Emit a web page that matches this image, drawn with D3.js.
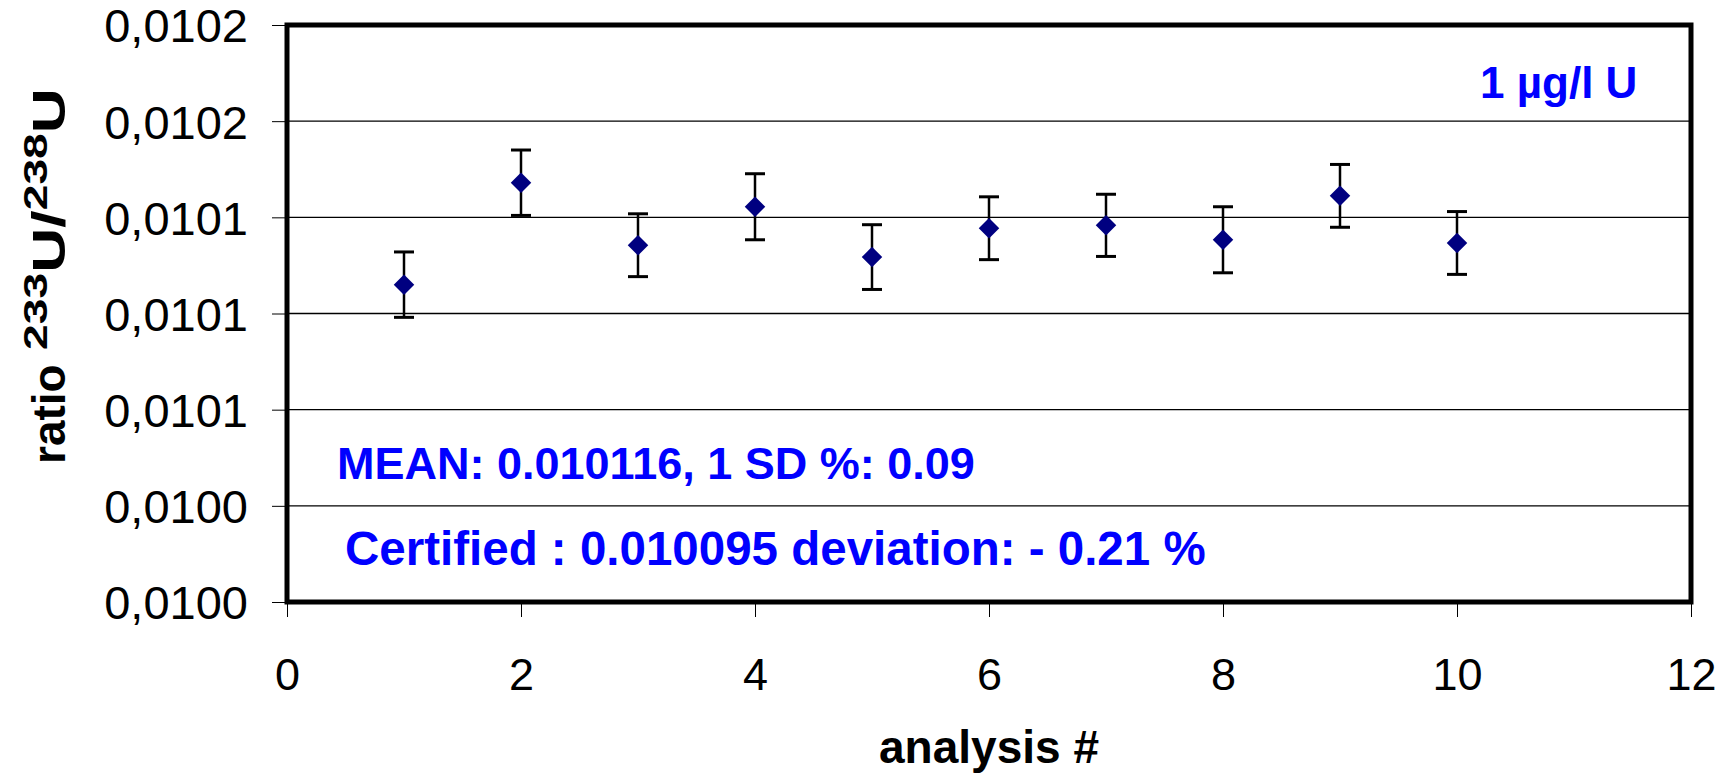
<!DOCTYPE html>
<html lang="en">
<head>
    <meta charset="UTF-8">
    <title>233U/238U ratio</title>
    <script src="https://d3js.org/d3.v7.min.js"></script>
    <style>
        body { margin: 0; background: #ffffff; }
        text { font-family: "Liberation Sans", Arial, sans-serif; }
    </style>
</head>
<body>
<div id="chart"></div>
<script>
    let analysis = [1, 2, 3, 4, 5, 6, 7, 8, 9, 10];
    let ratio = [0.010099, 0.0101308, 0.0101113, 0.0101233, 0.0101076,
        0.0101166, 0.0101175, 0.010113, 0.0101267, 0.010112];
    let ratioErr = [0.0000102, 0.0000102, 0.0000098, 0.0000103, 0.0000101,
        0.0000098, 0.0000097, 0.0000103, 0.0000098, 0.0000098];

    // axis ticks, labels as printed on the chart (4 decimals, comma separator)
    let yTicks = [0.01, 0.01003, 0.01006, 0.01009, 0.01012, 0.01015, 0.01018];
    let yTickLabels = ['0,0100', '0,0100', '0,0101', '0,0101', '0,0101', '0,0102', '0,0102'];
    let xTicks = [0, 2, 4, 6, 8, 10, 12];

    let notes = ['1 µg/l U', 'MEAN: 0.010116, 1 SD %: 0.09', 'Certified : 0.010095 deviation: - 0.21 %'];

    let W = 1733, H = 781;
    let plot = {left: 287, right: 1691, top: 25, bottom: 602};

    let svg = d3.select('#chart')
        .append('svg')
        .attr('width', W)
        .attr('height', H);

    let x = d3.scaleLinear()
        .domain([0, 12])
        .range([plot.left, plot.right]);

    let y = d3.scaleLinear()
        .domain([0.01, 0.01018])
        .range([plot.bottom, plot.top]);

    // gridlines
    svg.append('g')
        .selectAll('line')
        .data(yTicks)
        .enter()
        .append('line')
        .attr('x1', x(0))
        .attr('x2', x(12))
        .attr('y1', function (d) { return y(d); })
        .attr('y2', function (d) { return y(d); })
        .attr('stroke', '#000')
        .attr('stroke-width', 1.3);

    // Y axis
    let yAxis = svg.append('g')
        .attr('transform', 'translate(' + plot.left + ',0)')
        .call(d3.axisLeft(y)
            .tickValues(yTicks)
            .tickSize(15)
            .tickPadding(24)
            .tickFormat(function (d, i) { return yTickLabels[i]; }));
    yAxis.select('.domain').remove();
    yAxis.selectAll('line').attr('stroke', '#000');
    yAxis.selectAll('text')
        .attr('dy', '0.36em')
        .style('font-size', '47px')
        .attr('fill', '#000');

    // X axis
    let xAxis = svg.append('g')
        .attr('transform', 'translate(0,' + plot.bottom + ')')
        .call(d3.axisBottom(x)
            .tickValues(xTicks)
            .tickSize(15)
            .tickPadding(41));
    xAxis.select('.domain').remove();
    xAxis.selectAll('line').attr('stroke', '#000');
    xAxis.selectAll('text')
        .style('font-size', '45px')
        .attr('fill', '#000');

    // plot frame
    svg.append('rect')
        .attr('x', x(0))
        .attr('y', y(0.01018))
        .attr('width', x(12) - x(0))
        .attr('height', y(0.01) - y(0.01018))
        .attr('fill', 'none')
        .attr('stroke', '#000')
        .attr('stroke-width', 5);

    // error bars
    let bars = svg.append('g')
        .selectAll('g')
        .data(analysis)
        .enter()
        .append('g');
    bars.append('line')
        .attr('x1', function (d) { return x(d); })
        .attr('x2', function (d) { return x(d); })
        .attr('y1', function (d, i) { return y(ratio[i] + ratioErr[i]); })
        .attr('y2', function (d, i) { return y(ratio[i] - ratioErr[i]); })
        .attr('stroke', '#000')
        .attr('stroke-width', 2.5);
    [1, -1].forEach(function (s) {
        bars.append('line')
            .attr('x1', function (d) { return x(d) - 10; })
            .attr('x2', function (d) { return x(d) + 10; })
            .attr('y1', function (d, i) { return y(ratio[i] + s * ratioErr[i]); })
            .attr('y2', function (d, i) { return y(ratio[i] + s * ratioErr[i]); })
            .attr('stroke', '#000')
            .attr('stroke-width', 3);
    });

    // diamond markers
    svg.append('g')
        .selectAll('path')
        .data(analysis)
        .enter()
        .append('path')
        .attr('d', d3.symbol(d3.symbolSquare).size(210))
        .attr('transform', function (d, i) {
            return 'translate(' + x(d) + ',' + y(ratio[i]) + ') rotate(45)';
        })
        .attr('fill', '#000080');

    // annotations
    svg.append('text')
        .attr('x', 1480).attr('y', 98)
        .style('font-size', '44px').style('font-weight', 'bold')
        .attr('fill', '#0000ff')
        .text(notes[0]);
    svg.append('text')
        .attr('x', 337).attr('y', 479)
        .style('font-size', '45px').style('font-weight', 'bold')
        .attr('fill', '#0000ff')
        .text(notes[1]);
    svg.append('text')
        .attr('x', 345).attr('y', 565)
        .style('font-size', '47.5px').style('font-weight', 'bold')
        .attr('fill', '#0000ff')
        .text(notes[2]);

    // axis titles
    svg.append('text')
        .attr('x', (plot.left + plot.right) / 2)
        .attr('y', 763)
        .attr('text-anchor', 'middle')
        .style('font-size', '46px').style('font-weight', 'bold')
        .text('analysis #');

    // rotated y title: "ratio" plain, isotope part drawn wider like the original
    svg.append('text')
        .attr('transform', 'translate(65,464) rotate(-90)')
        .style('font-size', '46px').style('font-weight', 'bold')
        .text('ratio');
    let yTitle = svg.append('text')
        .attr('transform', 'translate(65,350) rotate(-90) scale(1.36,1)')
        .style('font-weight', 'bold');
    yTitle.append('tspan').style('font-size', '34px').attr('dy', -18).text('233');
    yTitle.append('tspan').style('font-size', '46px').attr('dy', 18).text('U/');
    yTitle.append('tspan').style('font-size', '34px').attr('dy', -18).text('238');
    yTitle.append('tspan').style('font-size', '46px').attr('dy', 18).text('U');
</script>
</body>
</html>
